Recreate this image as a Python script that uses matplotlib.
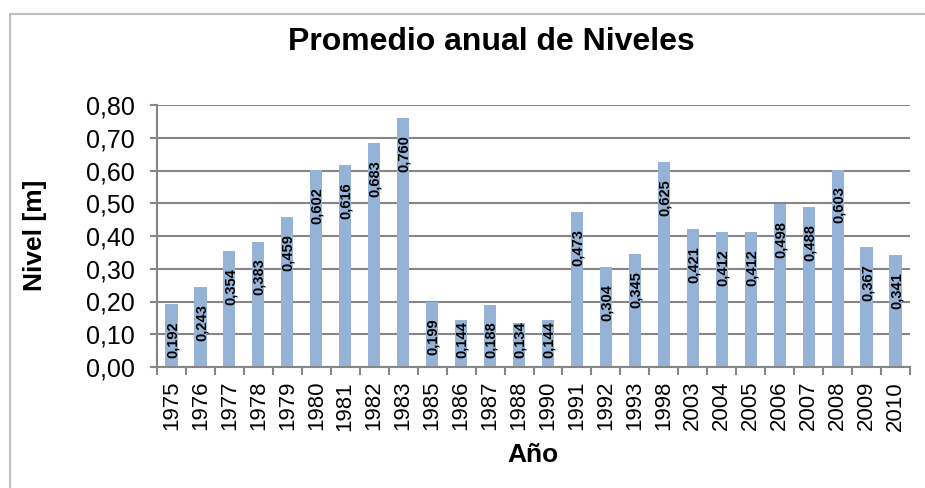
import matplotlib.pyplot as plt
from matplotlib.patches import Rectangle
import numpy as np

plt.rcParams['font.family'] = ['Liberation Sans', 'DejaVu Sans']

years = ["1975", "1976", "1977", "1978", "1979", "1980", "1981", "1982", "1983",
         "1985", "1986", "1987", "1988", "1990", "1991", "1992", "1993", "1998",
         "2003", "2004", "2005", "2006", "2007", "2008", "2009", "2010"]
niveles = [0.192, 0.243, 0.354, 0.383, 0.459, 0.602, 0.616, 0.683, 0.760,
           0.199, 0.144, 0.188, 0.134, 0.144, 0.473, 0.304, 0.345, 0.625,
           0.421, 0.412, 0.412, 0.498, 0.488, 0.603, 0.367, 0.341]


def fmt(v, d):
    return f"{v:.{d}f}".replace(".", ",")


def main():
    fig = plt.figure(figsize=(9.25, 4.88), dpi=100)
    ax = fig.add_axes([157 / 925, 1 - 367 / 488, 753 / 925, 262 / 488])

    grey = "#868686"
    x = np.arange(len(years))
    bars = ax.bar(x, niveles, width=0.42, color="#95B3D7", zorder=3)

    px_per_unit = 262 / 0.8
    for b, v in zip(bars, niveles):
        # keep the label clear of the axis on short bars
        off = min(17, v * px_per_unit - 46)
        ax.annotate(fmt(v, 3), (b.get_x() + b.get_width() / 2, v),
                    xytext=(1, -off), textcoords="offset pixels",
                    rotation=90, ha="center", va="top",
                    fontsize=10.5, fontweight="bold", zorder=4)

    ax.set_xlim(-0.5, len(years) - 0.5)
    ax.set_ylim(0, 0.8)
    yt = np.round(np.arange(0, 0.81, 0.1), 2)
    ax.set_yticks(yt)
    ax.set_yticklabels([fmt(t, 2) for t in yt], fontsize=18)
    ax.set_xticks(x)
    ax.set_xticklabels(years, rotation=90, fontsize=16)
    ax.set_xticks(np.arange(-0.5, len(years)), minor=True)
    ax.tick_params(axis="x", which="major", length=0, pad=10)
    ax.tick_params(axis="x", which="minor", length=6, width=1.5, color=grey)
    ax.tick_params(axis="y", length=5, width=1.5, color=grey, pad=11)

    ax.yaxis.grid(True, color=grey, linewidth=1.5, zorder=0)
    ax.set_axisbelow(True)
    for s in ["top", "right"]:
        ax.spines[s].set_visible(False)
    for s in ["left", "bottom"]:
        ax.spines[s].set_color(grey)
        ax.spines[s].set_linewidth(1.5)
        ax.spines[s].set_zorder(5)

    fig.text(35 / 925, 1 - 235 / 488, "Nivel [m]", fontsize=19,
             fontweight="bold", rotation=90, ha="center", va="center")
    fig.text(533 / 925, 1 - 455 / 488, "Año", fontsize=19,
             fontweight="bold", ha="center", va="center")
    fig.text(491 / 925, 1 - 42 / 488, "Promedio anual de Niveles",
             fontsize=23, fontweight="bold", ha="center", va="center")

    fig.patches.append(Rectangle((10 / 925, -0.5), 2, 0.5 + 1 - 14 / 488,
                                 fill=False, edgecolor="#BFBFBF", linewidth=1.5,
                                 transform=fig.transFigure))

    fig.savefig("out.png", dpi=100)


if __name__ == "__main__":
    main()
